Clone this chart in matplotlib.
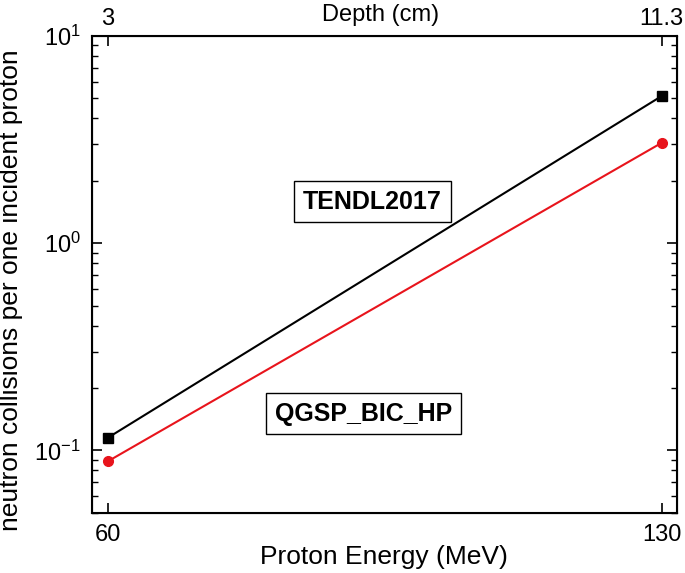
import matplotlib
matplotlib.use("Agg")
import matplotlib.pyplot as plt
from matplotlib.ticker import LogLocator, NullFormatter, FixedLocator

plt.rcParams['font.family'] = ['Liberation Sans', 'DejaVu Sans']
plt.rcParams['mathtext.fontset'] = 'custom'
plt.rcParams['mathtext.rm'] = 'Liberation Sans'
plt.rcParams['mathtext.it'] = 'Liberation Sans'

energy = [60, 130]
depth_labels = ["3", "11.3"]
tendl = [0.115, 5.13]
qgsp = [0.0885, 3.05]

fig = plt.figure(figsize=(6.85, 5.73), dpi=100)
ax = fig.add_axes([0.1343, 0.1052, 0.8536, 0.832])

ax.plot(energy, tendl, color='black', lw=1.5, marker='s', ms=6.5, zorder=3)
ax.plot(energy, qgsp, color='#e8141c', lw=1.5, marker='o', ms=7, zorder=3)

ax.set_yscale('log')
ax.set_xlim(58.0, 131.9)
ax.set_ylim(0.05, 10)

ax.set_xticks(energy)
ax.set_xticklabels([str(e) for e in energy])
ax.yaxis.set_major_locator(FixedLocator([0.1, 1, 10]))
ax.set_yticklabels([r'$10^{-1}$', r'$10^{0}$', r'$10^{1}$'])
ax.yaxis.set_minor_locator(LogLocator(base=10, subs=range(2, 10), numticks=20))
ax.yaxis.set_minor_formatter(NullFormatter())

ax.tick_params(axis='both', which='major', direction='in', length=7, width=1.2,
               labelsize=17, pad=8, top=True, right=True)
ax.tick_params(axis='both', which='minor', direction='in', length=4, width=1.0,
               top=False, right=True)
ax.tick_params(axis='x', which='minor', bottom=False, top=False)
for s in ax.spines.values():
    s.set_linewidth(1.5)

ax.set_xlabel('Proton Energy (MeV)', fontsize=19)
ax.xaxis.label.set_va('center')
ax.xaxis.set_label_coords(0.5, -0.093)
ax.set_ylabel('neutron collisions per one incident proton', fontsize=19)
ax.yaxis.label.set_va('center')
ax.yaxis.set_label_coords(-0.138, 0.467)

# top axis (depth)
ax2 = ax.twiny()
ax2.set_xlim(ax.get_xlim())
ax2.set_xticks(energy)
ax2.set_xticklabels(depth_labels)
ax2.tick_params(axis='x', direction='in', length=7, width=1.2, labelsize=17, pad=4)
ax2.xaxis.set_minor_locator(FixedLocator([]))
fig.text(0.555, 0.974, 'Depth (cm)', fontsize=17, ha='center', va='center')

ax.text(0.4797, 0.6528, 'TENDL2017', transform=ax.transAxes, fontsize=18,
        fontweight='bold', ha='center', va='center',
        bbox=dict(boxstyle='square,pad=0.35', fc='white', ec='black', lw=1.0))
ax.text(0.4643, 0.2081, 'QGSP_BIC_HP', transform=ax.transAxes, fontsize=18,
        fontweight='bold', ha='center', va='center',
        bbox=dict(boxstyle='square,pad=0.35', fc='white', ec='black', lw=1.0))

fig.savefig('out.png', dpi=100)
